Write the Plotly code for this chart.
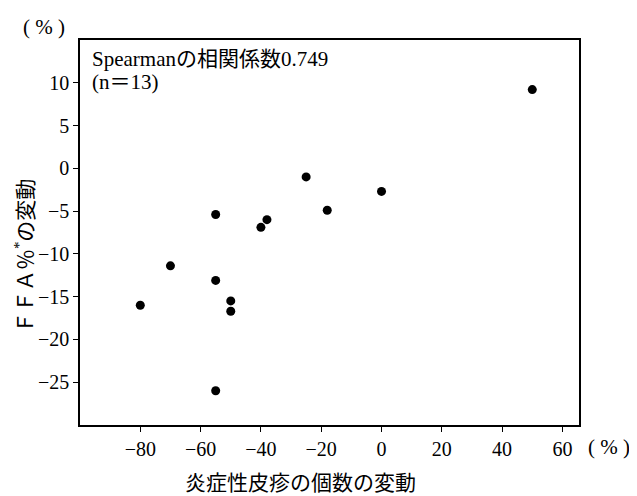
import plotly.graph_objects as go

# Data
acne_change = [-80, -70, -55, -55, -55, -50, -50, -40, -38, -25, -18, 0, 50]
ffa_change = [-16.0, -11.4, -5.4, -13.1, -26.0, -15.5, -16.7, -6.9, -6.0, -1.0, -4.9, -2.7, 9.2]

x_ticks = [-80, -60, -40, -20, 0, 20, 40, 60]
y_ticks = [10, 5, 0, -5, -10, -15, -20, -25]

FONT = "Liberation Serif, 'Noto Sans CJK JP', serif"
OFF = 8  # page body margin in the browser
W, H = 637 - OFF, 496 - OFF
# plot-area edges in page pixels, converted to figure pixels
PL, PR, PT, PB = 80 - OFF, 579 - OFF, 40 - OFF, 425 - OFF

fig = go.Figure()
fig.add_trace(go.Scatter(
    x=acne_change, y=ffa_change, mode="markers",
    marker=dict(color="black", size=9),
    showlegend=False,
))

axis_common = dict(
    showline=True, mirror=True, linecolor="black", linewidth=1.5,
    showgrid=False, zeroline=False,
    ticks="outside", ticklen=5, tickwidth=1, tickcolor="black",
    tickfont=dict(family=FONT, size=20, color="black"),
)

fig.update_layout(
    width=W, height=H,
    margin=dict(l=PL, r=W - PR, t=PT, b=H - PB, autoexpand=False),
    paper_bgcolor="white", plot_bgcolor="white",
    font=dict(family=FONT, color="black"),
    xaxis=dict(range=[-100, 65.5], tickvals=x_ticks, **axis_common),
    yaxis=dict(range=[-30, 15], tickvals=y_ticks, **axis_common),
)

# (text, page-x, page-y, xanchor, angle, size)
labels = [
    ("Spearmanの相関係数0.749", 90, 59, "left", 0, 21),
    ("(n＝13)", 90, 82, "left", 0, 21),
    ("( % )", 44, 27, "center", 0, 21),
    ("( % )", 609, 447, "center", 0, 21),
    ("炎症性皮疹の個数の変動", 300, 483, "center", 0, 21),
    ("ＦＦＡ％<sup>*</sup>の変動", 24, 256, "center", -90, 21),
]
for text, px, py, xa, ang, fs in labels:
    px -= OFF
    py -= OFF
    fig.add_annotation(
        text=text,
        x=(px - PL) / (PR - PL), y=(PB - py) / (PB - PT),
        xref="paper", yref="paper", xanchor=xa, yanchor="middle",
        textangle=ang, showarrow=False,
        font=dict(family=FONT, size=fs, color="black"),
    )

fig.write_html("out.html")
